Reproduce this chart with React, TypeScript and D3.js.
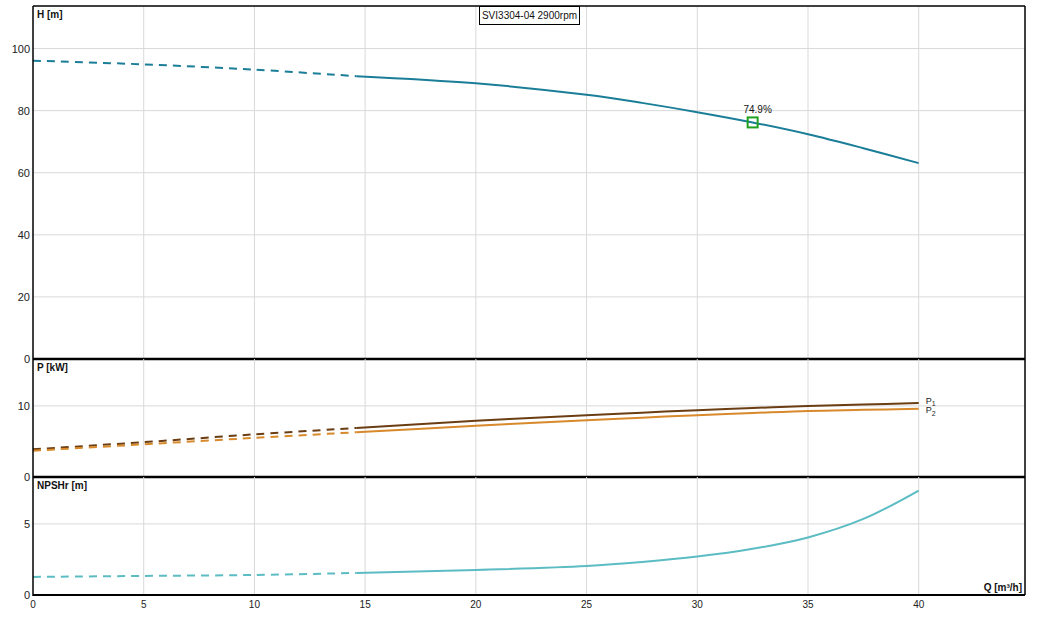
import { useEffect, useRef } from 'react'
import * as d3 from 'd3'

// flow points [m³/h]; first points up to 14.6 are the dashed (extrapolated) part
const flowQ = [0, 5, 10, 14.6, 20, 25, 27.5, 30, 32.5, 35, 37.5, 40]
const headH = [96.1, 94.9, 93.2, 91.1, 88.8, 85.1, 82.5, 79.5, 76.2, 72.4, 67.9, 63.1]
const powerP1 = [3.9, 4.9, 6.0, 6.9, 7.9, 8.7, 9.05, 9.4, 9.7, 10.0, 10.2, 10.4]
const powerP2 = [3.7, 4.6, 5.5, 6.3, 7.2, 8.0, 8.35, 8.7, 9.0, 9.3, 9.45, 9.6]
const npshR = [1.27, 1.34, 1.41, 1.55, 1.76, 2.04, 2.32, 2.7, 3.25, 4.05, 5.35, 7.35]
const dashedUntil = 14.6

const xTicks = [0, 5, 10, 15, 20, 25, 30, 35, 40]
const hTicks = [0, 20, 40, 60, 80, 100]
const pTicks = [0, 10]
const nTicks = [0, 5]

const bestPoint = { q: 32.5, h: 76.2, label: '74.9%' }
const title = 'SVI3304-04 2900rpm'

const width = 1040
const height = 619
const left = 33
const right = 1025
const font = '"Liberation Sans", Arial, sans-serif'

export default function App() {
  const svgRef = useRef<SVGSVGElement>(null)

  useEffect(() => {
    if (!svgRef.current) return
    const svg = d3.select(svgRef.current)
    svg.selectAll('*').remove()

    const x = d3.scaleLinear().domain([0, 44.8]).range([left, right])

    const panels = [
      { label: 'H [m]', top: 6, bottom: 359, domain: [0, 113.7], ticks: hTicks, series: [{ v: headH, color: '#1b7e98' }] },
      {
        label: 'P [kW]', top: 359, bottom: 477, domain: [0, 16.6], ticks: pTicks,
        series: [{ v: powerP1, color: '#6a3d12' }, { v: powerP2, color: '#d8892b' }],
      },
      { label: 'NPSHr [m]', top: 477, bottom: 595, domain: [0, 8.3], ticks: nTicks, series: [{ v: npshR, color: '#5cbcc3' }] },
    ]

    svg.append('rect').attr('width', width).attr('height', height).attr('fill', '#fff')

    panels.forEach((p, i) => {
      const y = d3.scaleLinear().domain(p.domain).range([p.bottom, p.top])
      const g = svg.append('g')

      // grid
      g.selectAll('.vg')
        .data(xTicks.slice(1))
        .join('line')
        .attr('x1', (d) => x(d)).attr('x2', (d) => x(d))
        .attr('y1', p.top).attr('y2', p.bottom)
        .attr('stroke', '#d9d9d9')
      g.selectAll('.hg')
        .data(p.ticks.slice(1))
        .join('line')
        .attr('x1', left).attr('x2', right)
        .attr('y1', (d) => y(d)).attr('y2', (d) => y(d))
        .attr('stroke', '#d9d9d9')

      // y tick labels
      g.selectAll('.yl')
        .data(p.ticks)
        .join('text')
        .attr('x', left - 3)
        .attr('y', (d) => y(d) + 4)
        .attr('text-anchor', 'end')
        .attr('font-family', font)
        .attr('font-size', 11)
        .attr('fill', '#222')
        .text((d) => d)

      g.append('text')
        .attr('x', left + 4).attr('y', p.top + 12)
        .attr('font-family', font).attr('font-size', 10).attr('font-weight', 'bold')
        .attr('fill', '#111')
        .text(p.label)

      // curves
      p.series.forEach((s) => {
        const pts = flowQ.map((q, k) => [q, s.v[k]] as [number, number])
        const line = d3.line<[number, number]>()
          .x((d) => x(d[0]))
          .y((d) => y(d[1]))
          .curve(d3.curveCatmullRom.alpha(0.5))
        g.append('path')
          .attr('d', line(pts.filter((d) => d[0] <= dashedUntil)))
          .attr('fill', 'none').attr('stroke', s.color).attr('stroke-width', 2)
          .attr('stroke-dasharray', '8,6')
        g.append('path')
          .attr('d', line(pts.filter((d) => d[0] >= dashedUntil)))
          .attr('fill', 'none').attr('stroke', s.color).attr('stroke-width', 2)
      })

      // panel bottom separator
      g.append('line')
        .attr('x1', left).attr('x2', right)
        .attr('y1', p.bottom).attr('y2', p.bottom)
        .attr('stroke', '#000').attr('stroke-width', i < 2 ? 2.5 : 2)

      if (i === 0) {
        g.append('rect')
          .attr('x', x(bestPoint.q) - 5).attr('y', y(bestPoint.h) - 5)
          .attr('width', 10).attr('height', 10)
          .attr('fill', 'none').attr('stroke', '#1fa01f').attr('stroke-width', 2)
        g.append('text')
          .attr('x', x(bestPoint.q) + 5).attr('y', y(bestPoint.h) - 9)
          .attr('text-anchor', 'middle')
          .attr('font-family', font).attr('font-size', 10).attr('fill', '#111')
          .text(bestPoint.label)
      }
      if (i === 1) {
        const lx = x(40) + 7
        const t1 = g.append('text').attr('x', lx).attr('y', y(powerP1[powerP1.length - 1]) + 0.5)
          .attr('font-family', font).attr('font-size', 9).attr('fill', '#222')
        t1.append('tspan').text('P')
        t1.append('tspan').attr('font-size', 7).attr('dy', 2).text('1')
        const t2 = g.append('text').attr('x', lx).attr('y', y(powerP2[powerP2.length - 1]) + 4)
          .attr('font-family', font).attr('font-size', 9).attr('fill', '#222')
        t2.append('tspan').text('P')
        t2.append('tspan').attr('font-size', 7).attr('dy', 3).text('2')
      }
    })

    // outer frame
    svg.append('line').attr('x1', left).attr('x2', right).attr('y1', 6).attr('y2', 6)
      .attr('stroke', '#000').attr('stroke-width', 1.5)
    svg.append('line').attr('x1', right).attr('x2', right).attr('y1', 6).attr('y2', 595)
      .attr('stroke', '#000').attr('stroke-width', 1.5)
    svg.append('line').attr('x1', left).attr('x2', left).attr('y1', 6).attr('y2', 596)
      .attr('stroke', '#000').attr('stroke-width', 1.5)

    // x tick labels
    svg.selectAll('.xl')
      .data(xTicks)
      .join('text')
      .attr('x', (d) => x(d))
      .attr('y', 608)
      .attr('text-anchor', 'middle')
      .attr('font-family', font).attr('font-size', 10).attr('fill', '#222')
      .text((d) => d)

    svg.append('text')
      .attr('x', right - 3).attr('y', 591)
      .attr('text-anchor', 'end')
      .attr('font-family', font).attr('font-size', 10).attr('font-weight', 'bold')
      .attr('fill', '#111')
      .text('Q [m³/h]')

    // title box
    svg.append('rect')
      .attr('x', 479.5).attr('y', 6.5).attr('width', 100).attr('height', 18)
      .attr('fill', '#fff').attr('stroke', '#000')
    svg.append('text')
      .attr('x', 529.5).attr('y', 19)
      .attr('text-anchor', 'middle')
      .attr('font-family', font).attr('font-size', 10).attr('fill', '#111')
      .text(title)
  }, [])

  return (
    <svg
      ref={svgRef}
      width={width}
      height={height}
      style={{ position: 'absolute', left: 0, top: 0, display: 'block' }}
    />
  )
}
